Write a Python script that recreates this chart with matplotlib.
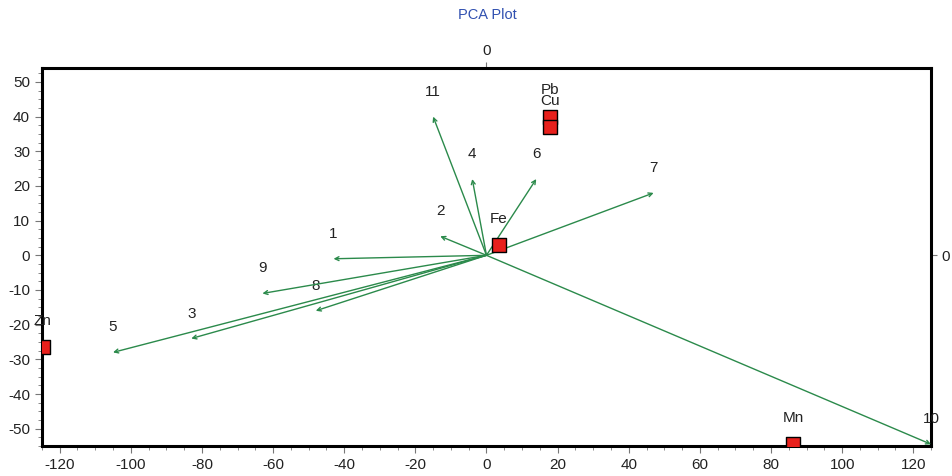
import matplotlib.pyplot as plt
from matplotlib.ticker import MultipleLocator

# loading vectors (arrows from origin)
var_names = ['1', '2', '3', '4', '5', '6', '7', '8', '9', '10', '11']
var_x = [-43, -13, -83, -4, -105, 14, 47, -48, -63, 125, -15]
var_y = [-1, 5.5, -24, 22, -28, 22, 18, -16, -11, -54.5, 40]

# sample scores
obs_names = ['Pb', 'Cu', 'Fe', 'Zn', 'Mn']
obs_x = [18, 18, 3.5, -124.8, 86.2]
obs_y = [40, 37, 3, -26.5, -54.5]

green = '#2b8a4b'

plt.rcParams['font.family'] = ['Liberation Sans', 'DejaVu Sans']
plt.rcParams['axes.unicode_minus'] = False
fig = plt.figure(figsize=(9.52, 4.76), dpi=100)
ax = fig.add_axes([0.044, 0.063, 0.934, 0.794])

for name, x, y in zip(var_names, var_x, var_y):
    ax.annotate('', xy=(x, y), xytext=(0, 0),
                arrowprops=dict(arrowstyle='->', color=green, lw=1.0,
                                mutation_scale=7, shrinkA=0, shrinkB=0))
    ax.annotate(name, xy=(x, y), xytext=(0, 18), textcoords='offset points',
                ha='center', va='center', fontsize=11, color='#222222',
                annotation_clip=False)

ax.scatter(obs_x, obs_y, marker='s', s=95, color='#e8201c',
           edgecolor='black', linewidth=1.0, zorder=5)
for name, x, y in zip(obs_names, obs_x, obs_y):
    ax.annotate(name, xy=(x, y), xytext=(0, 19), textcoords='offset points',
                ha='center', va='center', fontsize=11, color='#222222',
                annotation_clip=False)

ax.set_xlim(-125, 125)
ax.set_ylim(-55, 54)
ax.xaxis.set_major_locator(MultipleLocator(20))
ax.xaxis.set_minor_locator(MultipleLocator(5))
ax.yaxis.set_major_locator(MultipleLocator(10))
ax.yaxis.set_minor_locator(MultipleLocator(2.5))
ax.tick_params(which='both', direction='out', color='#777777',
               labelsize=11, labelcolor='#222222')
ax.tick_params(which='major', length=5)
ax.tick_params(which='minor', length=3)

for s in ax.spines.values():
    s.set_linewidth(2.2)
    s.set_color('black')

# top and right axes show only the zero line
top = ax.secondary_xaxis('top')
top.set_xticks([0])
top.tick_params(length=4, color='#777777', labelsize=11, labelcolor='#222222')
right = ax.secondary_yaxis('right')
right.set_yticks([0])
right.tick_params(length=4, color='#777777', labelsize=11, labelcolor='#222222')

fig.text(0.512, 0.968, 'PCA Plot', ha='center', va='center',
         fontsize=10.5, color='#3050b0')

fig.savefig('out.png', dpi=100)
